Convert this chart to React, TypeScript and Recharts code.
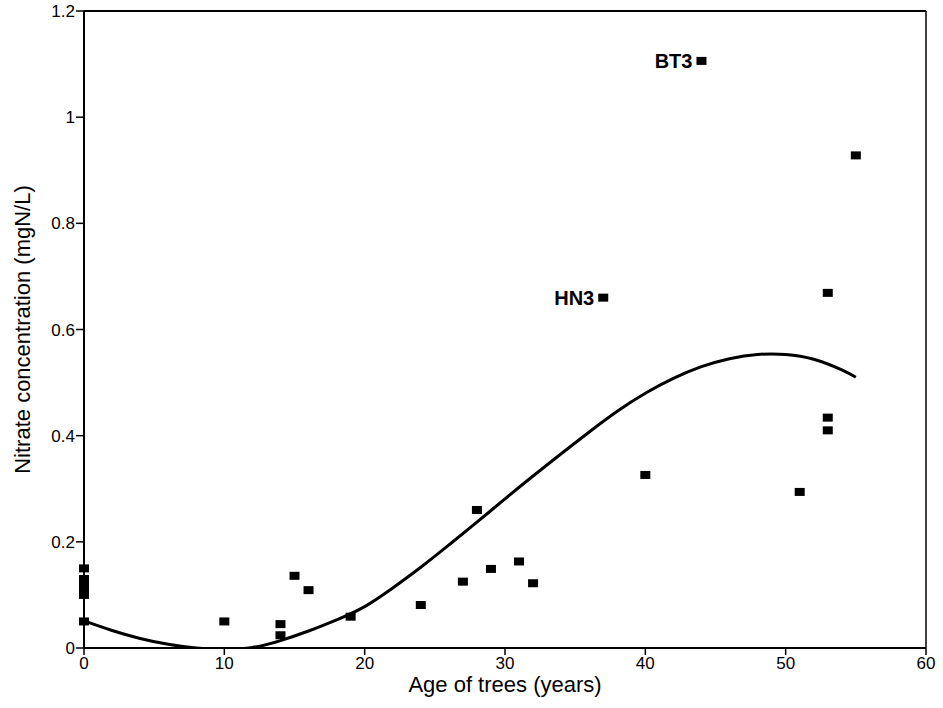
import { ComposedChart, XAxis, YAxis, Scatter, Line, ReferenceLine } from 'recharts';

// measured samples (age in years, nitrate in mgN/L)
const ages = [0, 0, 0, 0, 0, 0, 10, 14, 14, 15, 16, 19, 24, 27, 28, 29, 31, 32, 37, 40, 44, 51, 53, 53, 53, 55];
const nitrate = [0.15, 0.13, 0.12, 0.11, 0.1, 0.05, 0.05, 0.045, 0.024, 0.136, 0.109, 0.059, 0.081, 0.125, 0.26, 0.149, 0.163, 0.122, 0.66, 0.326, 1.106, 0.294, 0.669, 0.434, 0.41, 0.928];
const siteLabels = ['', '', '', '', '', '', '', '', '', '', '', '', '', '', '', '', '', '', 'HN3', '', 'BT3', '', '', '', '', ''];

// fitted curve
const fitAge = [0, 2, 4, 6, 8, 10, 12, 14, 16, 18, 20, 22, 24, 26, 28, 30, 32, 34, 36, 38, 40, 42, 44, 46, 48, 50, 52, 54, 55];
const fitNitrate = [0.051, 0.033, 0.018, 0.007, 0, -0.002, 0.001, 0.014, 0.032, 0.053, 0.078, 0.113, 0.152, 0.194, 0.237, 0.281, 0.324, 0.366, 0.407, 0.446, 0.48, 0.508, 0.53, 0.545, 0.553, 0.553, 0.544, 0.524, 0.51];

const xTicks = [0, 10, 20, 30, 40, 50, 60];
const yTicks = [0, 0.2, 0.4, 0.6, 0.8, 1, 1.2];

const points = ages.map((x, i) => ({ x, y: nitrate[i], label: siteLabels[i] }));
const fitData = fitAge.map((x, i) => ({ x, y: fitNitrate[i] }));

const FONT = '"Liberation Sans", Arial, Helvetica, sans-serif';

const SquareDot = (props: any) => {
  const { cx, cy, payload } = props;
  if (cx == null || cy == null) return null;
  return (
    <g>
      <rect x={cx - 5} y={cy - 4} width={10} height={8} fill="#000" />
      {payload.label ? (
        <text x={cx - 9} y={cy + 7} textAnchor="end" fontSize={20} fontWeight="bold" fill="#000" fontFamily={FONT}>
          {payload.label}
        </text>
      ) : null}
    </g>
  );
};

export default function App() {
  return (
    <div style={{ position: 'absolute', left: 0, top: 0, width: 943, height: 708, background: '#fff', fontFamily: FONT }}>
      <ComposedChart width={943} height={708} margin={{ top: 11, right: 17, bottom: 0, left: 14 }}>
        <XAxis
          type="number"
          dataKey="x"
          domain={[0, 60]}
          ticks={xTicks}
          height={60}
          axisLine={{ stroke: '#000', strokeWidth: 2 }}
          tickLine={{ stroke: '#000', strokeWidth: 1.5 }}
          tickSize={7}
          tickMargin={2}
          tick={{ fill: '#000', fontSize: 17, fontFamily: FONT }}
          label={{
            content: (p: any) => {
              const vb = p.viewBox;
              return (
                <text x={vb.x + vb.width / 2} y={692} textAnchor="middle" fontSize={22} fill="#000" fontFamily={FONT}>
                  Age of trees (years)
                </text>
              );
            },
          }}
        />
        <YAxis
          type="number"
          dataKey="y"
          domain={[0, 1.2]}
          allowDataOverflow
          ticks={yTicks}
          width={70}
          axisLine={{ stroke: '#000', strokeWidth: 2 }}
          tickLine={{ stroke: '#000', strokeWidth: 1.5 }}
          tickSize={8}
          tickMargin={1}
          tick={{ fill: '#000', fontSize: 17, fontFamily: FONT }}
          label={{
            content: (p: any) => {
              const vb = p.viewBox;
              const cy = vb.y + vb.height / 2;
              return (
                <text x={30} y={cy} transform={`rotate(-90 30 ${cy})`} textAnchor="middle" fontSize={22} fill="#000" fontFamily={FONT}>
                  Nitrate concentration (mgN/L)
                </text>
              );
            },
          }}
        />
        <ReferenceLine y={1.2} stroke="#000" strokeWidth={2} />
        <ReferenceLine x={60} stroke="#000" strokeWidth={1.5} />
        <Line
          data={fitData}
          dataKey="y"
          type="natural"
          stroke="#000"
          strokeWidth={3}
          dot={false}
          activeDot={false}
          isAnimationActive={false}
        />
        <Scatter data={points} dataKey="y" shape={SquareDot} isAnimationActive={false} />
      </ComposedChart>
    </div>
  );
}
